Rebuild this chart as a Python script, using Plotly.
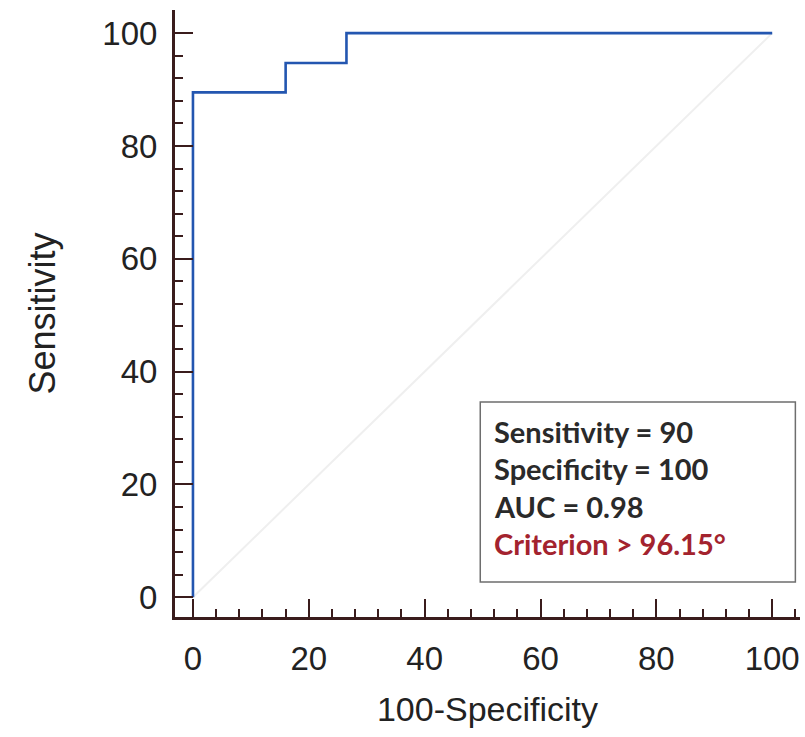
import plotly.graph_objects as go

# ROC curve data (100-Specificity vs Sensitivity)
fpr = [0, 0, 16, 16, 26.5, 26.5, 100]
tpr = [0, 89.5, 89.5, 94.7, 94.7, 100, 100]
diag_x = [0, 100]
diag_y = [0, 100]

stats_lines = ["Sensitivity = 90", "Specificity = 100", "AUC = 0.98", "Criterion > 96.15°"]
stats_colors = ["#2a2a2a", "#2a2a2a", "#2a2a2a", "#a3232e"]
stats_y = [29.4, 22.9, 16.1, 9.6]

axis_color = "#3a1c1c"

fig = go.Figure()
fig.add_trace(go.Scatter(x=diag_x, y=diag_y, mode="lines",
                         line=dict(color="#efefef", width=2), hoverinfo="skip"))
fig.add_trace(go.Scatter(x=fpr, y=tpr, mode="lines",
                         line=dict(color="#2356b0", width=2.6)))

# stats box
fig.add_shape(type="rect", xref="x", yref="y", x0=49.6, x1=104.0, y0=2.7, y1=34.6,
              line=dict(color="#6e6e6e", width=1.5), fillcolor="rgba(255,255,255,0.9)", layer="above")
for txt, col, yy in zip(stats_lines, stats_colors, stats_y):
    fig.add_annotation(x=51.6, y=yy, xref="x", yref="y", text="<b>" + txt + "</b>",
                       showarrow=False, xanchor="left", yanchor="middle",
                       font=dict(family="Lato", size=29, color=col))

tickfont = dict(family="Liberation Sans, Arial", size=33, color="#222222")

fig.update_xaxes(range=[-3.1, 104.8], tickmode="linear", tick0=0, dtick=20,
                 ticks="inside", ticklen=18, tickwidth=2, tickcolor=axis_color,
                 minor=dict(ticks="inside", ticklen=8, tickwidth=1.5, tickcolor=axis_color,
                            tickmode="linear", tick0=0, dtick=4),
                 showline=True, linecolor=axis_color, linewidth=3,
                 showgrid=False, zeroline=False, tickfont=tickfont,
                 ticklabelstandoff=10,
                 title=dict(text="100-Specificity", font=dict(family="Liberation Sans, Arial", size=34, color="#222222"),
                            standoff=22))
fig.update_yaxes(range=[-3.5, 104.1], tickmode="linear", tick0=0, dtick=20,
                 ticks="inside", ticklen=18, tickwidth=2, tickcolor=axis_color,
                 minor=dict(ticks="inside", ticklen=8, tickwidth=1.5, tickcolor=axis_color,
                            tickmode="linear", tick0=0, dtick=4),
                 showline=True, linecolor=axis_color, linewidth=3,
                 showgrid=False, zeroline=False, tickfont=tickfont,
                 ticklabelstandoff=8,
                 title=dict(text="Sensitivity", font=dict(family="Liberation Sans, Arial", size=36, color="#222222"),
                            standoff=36))

fig.update_layout(width=805, height=737, showlegend=False,
                  margin=dict(l=175, r=5, t=10, b=120),
                  plot_bgcolor="white", paper_bgcolor="white")

fig.write_html("out.html")
